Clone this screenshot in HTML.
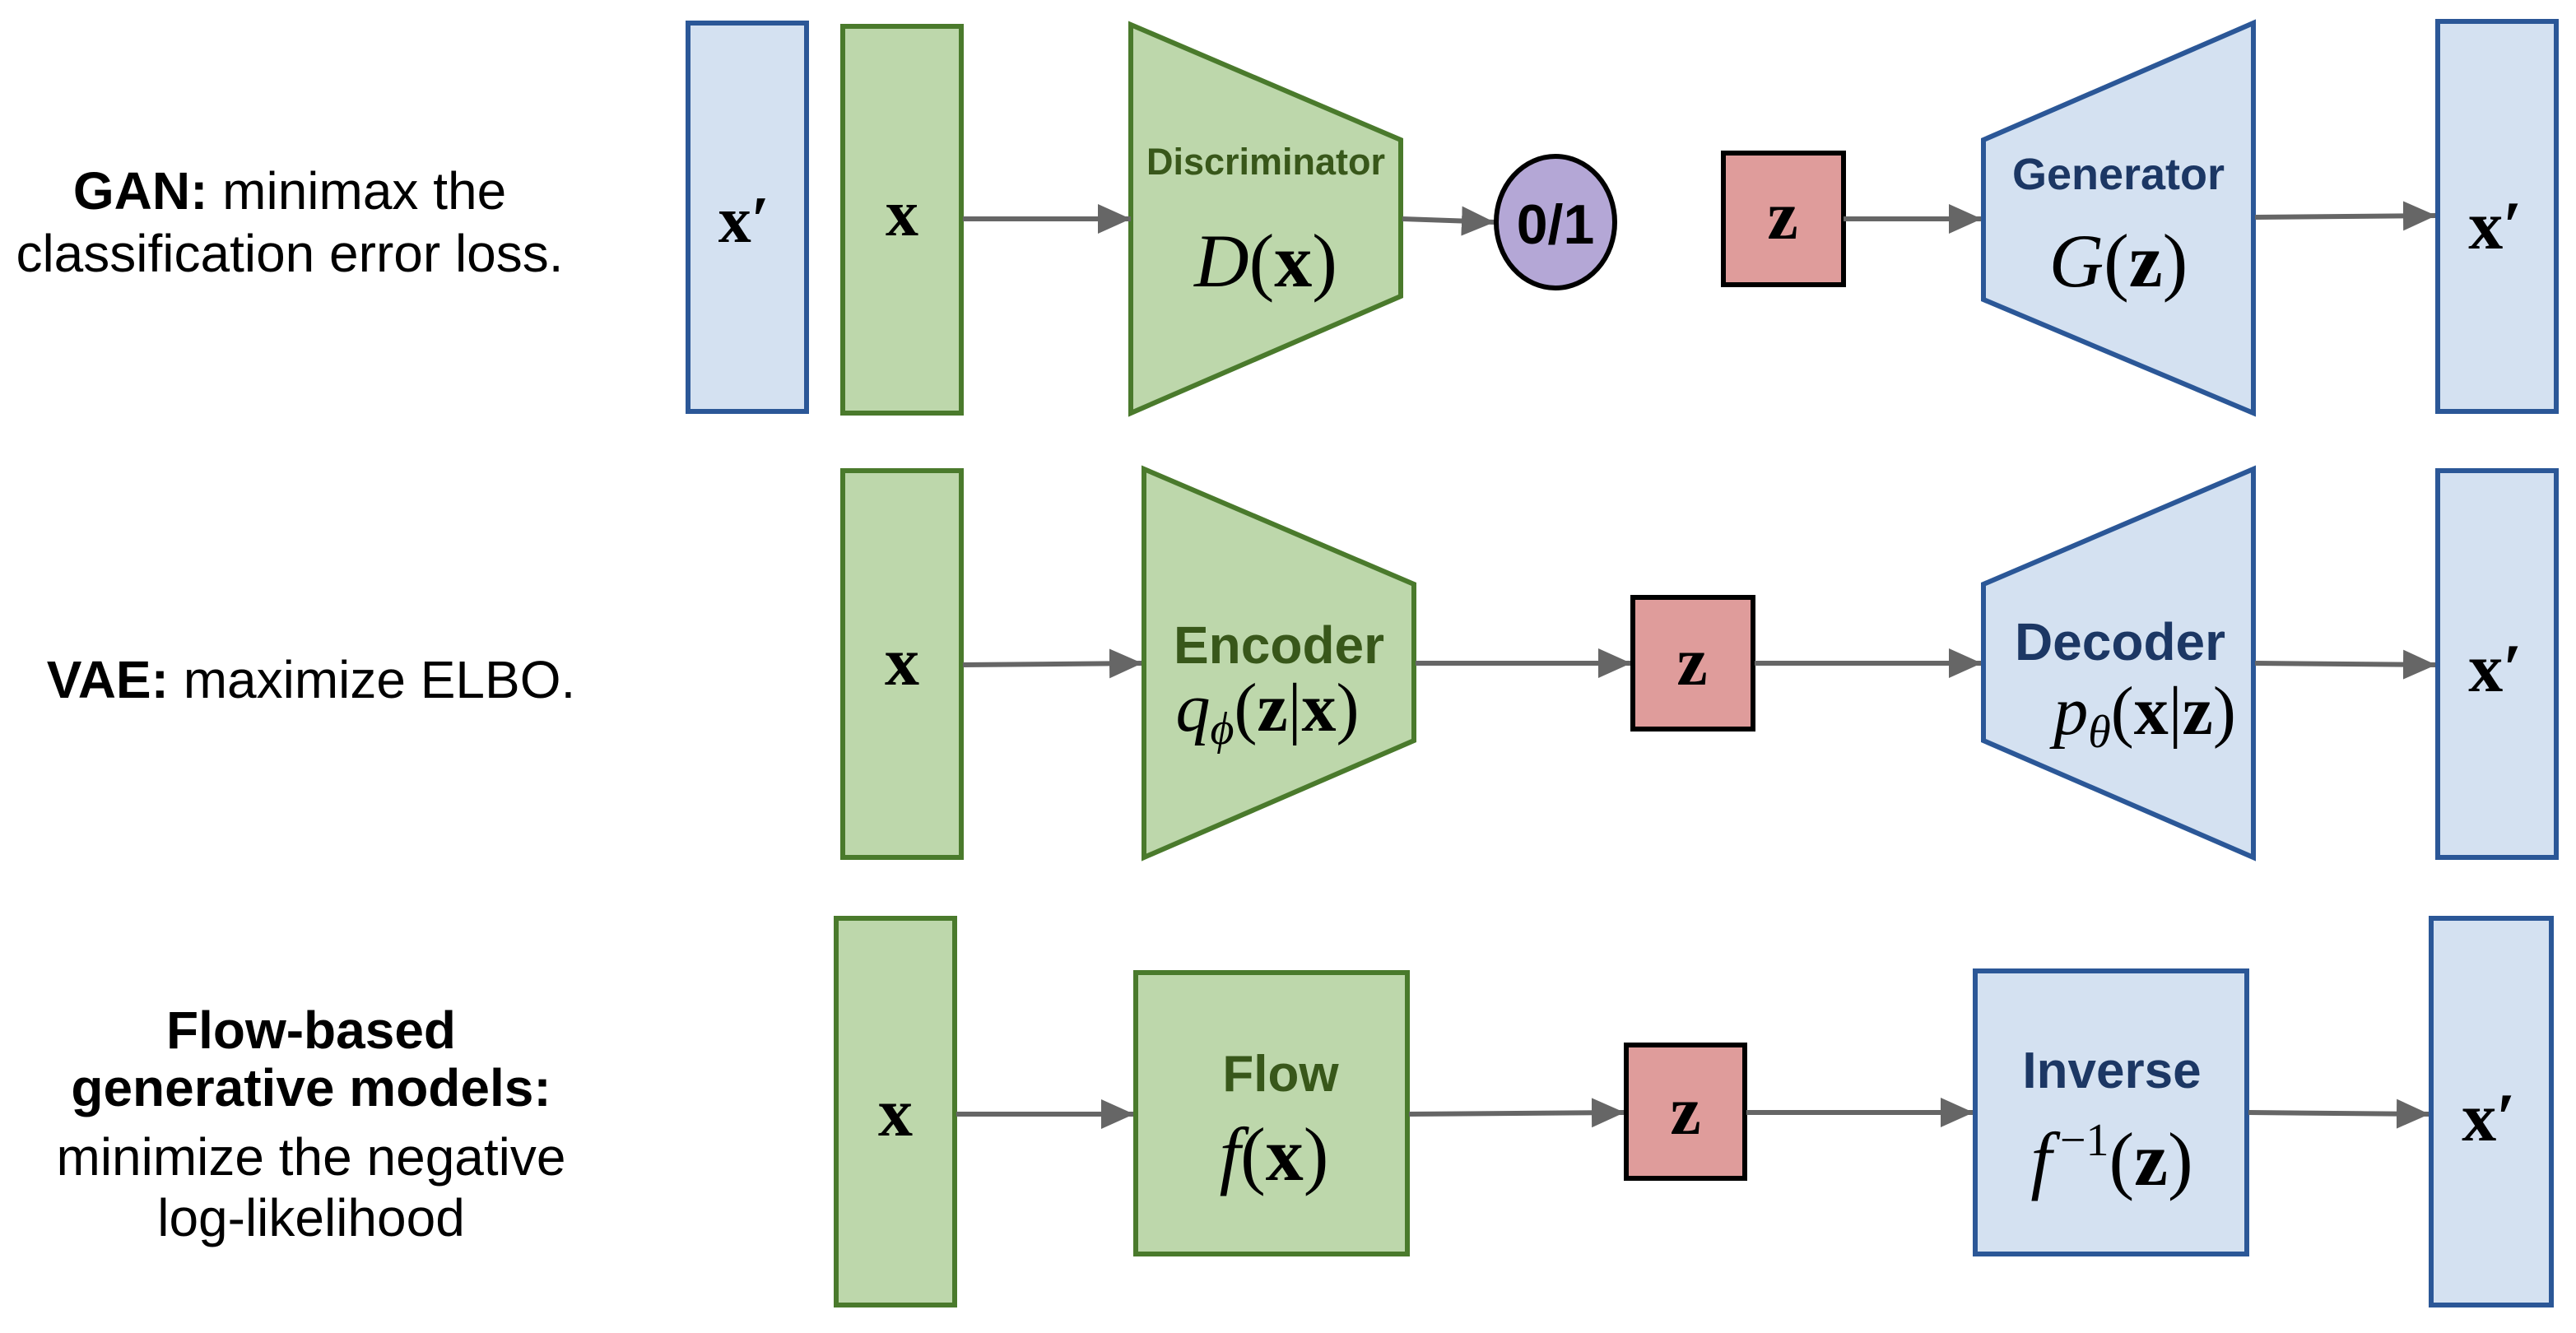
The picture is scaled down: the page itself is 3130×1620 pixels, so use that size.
<!DOCTYPE html>
<html><head><meta charset="utf-8"><style>
html,body{margin:0;padding:0;background:#fff;width:3130px;height:1620px;overflow:hidden}
svg{display:block}
.lbl{font-family:"Liberation Sans",sans-serif;font-size:32px;fill:#000;text-anchor:middle}
.b{font-weight:bold}
.m{font-family:"Liberation Serif",serif;text-anchor:middle;fill:#000}
.mb{font-family:"Liberation Serif",serif;font-weight:bold;text-anchor:middle;fill:#000}
.gt{font-family:"Liberation Sans",sans-serif;font-weight:bold;fill:#38571a;text-anchor:middle}
.bt{font-family:"Liberation Sans",sans-serif;font-weight:bold;fill:#1c3764;text-anchor:middle}
.g{fill:#bdd7ab;stroke:#4a7a2c;stroke-width:3}
.bl{fill:#d4e1f1;stroke:#2b5797;stroke-width:3}
.z{fill:#df9c9b;stroke:#000;stroke-width:3}
.a{stroke:#666;stroke-width:3;fill:none}
</style></head><body>
<svg width="3130" height="1620" viewBox="0 0 1565 810" xmlns="http://www.w3.org/2000/svg">
<defs>
<marker id="h" viewBox="0 0 20 18" refX="20" refY="9" markerWidth="20" markerHeight="18" orient="auto" markerUnits="userSpaceOnUse"><path d="M0,0 L20,9 L0,18 Z" fill="#666"/></marker></defs>

<!-- left labels -->
<text class="lbl" x="176" y="127"><tspan class="b">GAN:</tspan> minimax the</text>
<text class="lbl" x="176" y="165">classification error loss.</text>
<text class="lbl" x="189" y="424"><tspan class="b">VAE:</tspan> maximize ELBO.</text>
<text class="lbl b" x="189" y="637">Flow-based</text>
<text class="lbl b" x="189" y="672">generative models:</text>
<text class="lbl" x="189" y="714">minimize the negative</text>
<text class="lbl" x="189" y="751">log-likelihood</text>

<!-- GAN -->
<rect class="bl" x="418" y="14" width="72" height="236"/>
<text class="mb" x="452" y="147" font-size="40">x′</text>
<rect class="g" x="512" y="16" width="72" height="235"/>
<text class="mb" x="548" y="143" font-size="40">x</text>
<polygon class="g" points="687,15 851,85 851,180 687,251"/>
<text class="gt" x="769" y="106" font-size="22.5">Discriminator</text>
<text class="m" x="769" y="174" font-size="46"><tspan font-style="italic">D</tspan>(<tspan font-weight="bold">x</tspan>)</text>
<line class="a" x1="585" y1="133" x2="687" y2="133" marker-end="url(#h)"/>
<line class="a" x1="852" y1="133" x2="908" y2="135" marker-end="url(#h)"/>
<ellipse cx="945" cy="135" rx="36" ry="40" fill="#b4a7d6" stroke="#000" stroke-width="3"/>
<text x="945" y="148" font-family="Liberation Sans,sans-serif" font-weight="bold" font-size="34" text-anchor="middle">0/1</text>
<rect class="z" x="1047" y="93" width="73" height="80"/>
<text class="mb" x="1083" y="145" font-size="42">z</text>
<line class="a" x1="1120" y1="133" x2="1204" y2="133" marker-end="url(#h)"/>
<polygon class="bl" points="1205,85 1369,14 1369,251 1205,182"/>
<text class="bt" x="1287" y="115" font-size="27">Generator</text>
<text class="m" x="1287" y="174" font-size="46"><tspan font-style="italic">G</tspan>(<tspan font-weight="bold">z</tspan>)</text>
<line class="a" x1="1370" y1="132" x2="1480" y2="131" marker-end="url(#h)"/>
<rect class="bl" x="1481" y="13" width="72" height="237"/>
<text class="mb" x="1516" y="151" font-size="42">x′</text>

<!-- VAE -->
<rect class="g" x="512" y="286" width="72" height="235"/>
<text class="mb" x="548" y="416" font-size="42">x</text>
<line class="a" x1="585" y1="404" x2="694" y2="403" marker-end="url(#h)"/>
<polygon class="g" points="695,285 859,355 859,450 695,521"/>
<text class="gt" x="777" y="403" font-size="32">Encoder</text>
<text class="m" x="770" y="444" font-size="42"><tspan font-style="italic">q</tspan><tspan font-style="italic" font-size="28" dy="8">ϕ</tspan><tspan dy="-8">(</tspan><tspan font-weight="bold">z</tspan>|<tspan font-weight="bold">x</tspan>)</text>
<line class="a" x1="860" y1="403" x2="991" y2="403" marker-end="url(#h)"/>
<rect class="z" x="992" y="363" width="73" height="80"/>
<text class="mb" x="1028" y="416" font-size="42">z</text>
<line class="a" x1="1066" y1="403" x2="1204" y2="403" marker-end="url(#h)"/>
<polygon class="bl" points="1205,355 1369,285 1369,521 1205,450"/>
<text class="bt" x="1288" y="401" font-size="32">Decoder</text>
<text class="m" x="1303" y="446" font-size="42"><tspan font-style="italic">p</tspan><tspan font-style="italic" font-size="28" dy="8">θ</tspan><tspan dy="-8">(</tspan><tspan font-weight="bold">x</tspan>|<tspan font-weight="bold">z</tspan>)</text>
<line class="a" x1="1370" y1="403" x2="1480" y2="404" marker-end="url(#h)"/>
<rect class="bl" x="1481" y="286" width="72" height="235"/>
<text class="mb" x="1516" y="420" font-size="42">x′</text>

<!-- Flow -->
<rect class="g" x="508" y="558" width="72" height="235"/>
<text class="mb" x="544" y="690" font-size="42">x</text>
<line class="a" x1="581" y1="677" x2="689" y2="677" marker-end="url(#h)"/>
<rect class="g" x="690" y="591" width="165" height="171"/>
<text class="gt" x="778" y="663" font-size="31">Flow</text>
<text class="m" x="774" y="717" font-size="46"><tspan font-style="italic">f</tspan>(<tspan font-weight="bold">x</tspan>)</text>
<line class="a" x1="856" y1="677" x2="987" y2="676" marker-end="url(#h)"/>
<rect class="z" x="988" y="635" width="72" height="81"/>
<text class="mb" x="1024" y="689" font-size="42">z</text>
<line class="a" x1="1061" y1="676" x2="1199" y2="676" marker-end="url(#h)"/>
<rect class="bl" x="1200" y="590" width="165" height="172"/>
<text class="bt" x="1283" y="661" font-size="31">Inverse</text>
<text class="m" x="1283" y="720" font-size="46"><tspan font-style="italic">f</tspan><tspan font-size="28" dx="5" dy="-18">−1</tspan><tspan dy="18">(</tspan><tspan font-weight="bold">z</tspan>)</text>
<line class="a" x1="1366" y1="676" x2="1476" y2="677" marker-end="url(#h)"/>
<rect class="bl" x="1477" y="558" width="73" height="235"/>
<text class="mb" x="1512" y="693" font-size="42">x′</text>
</svg>
</body></html>
